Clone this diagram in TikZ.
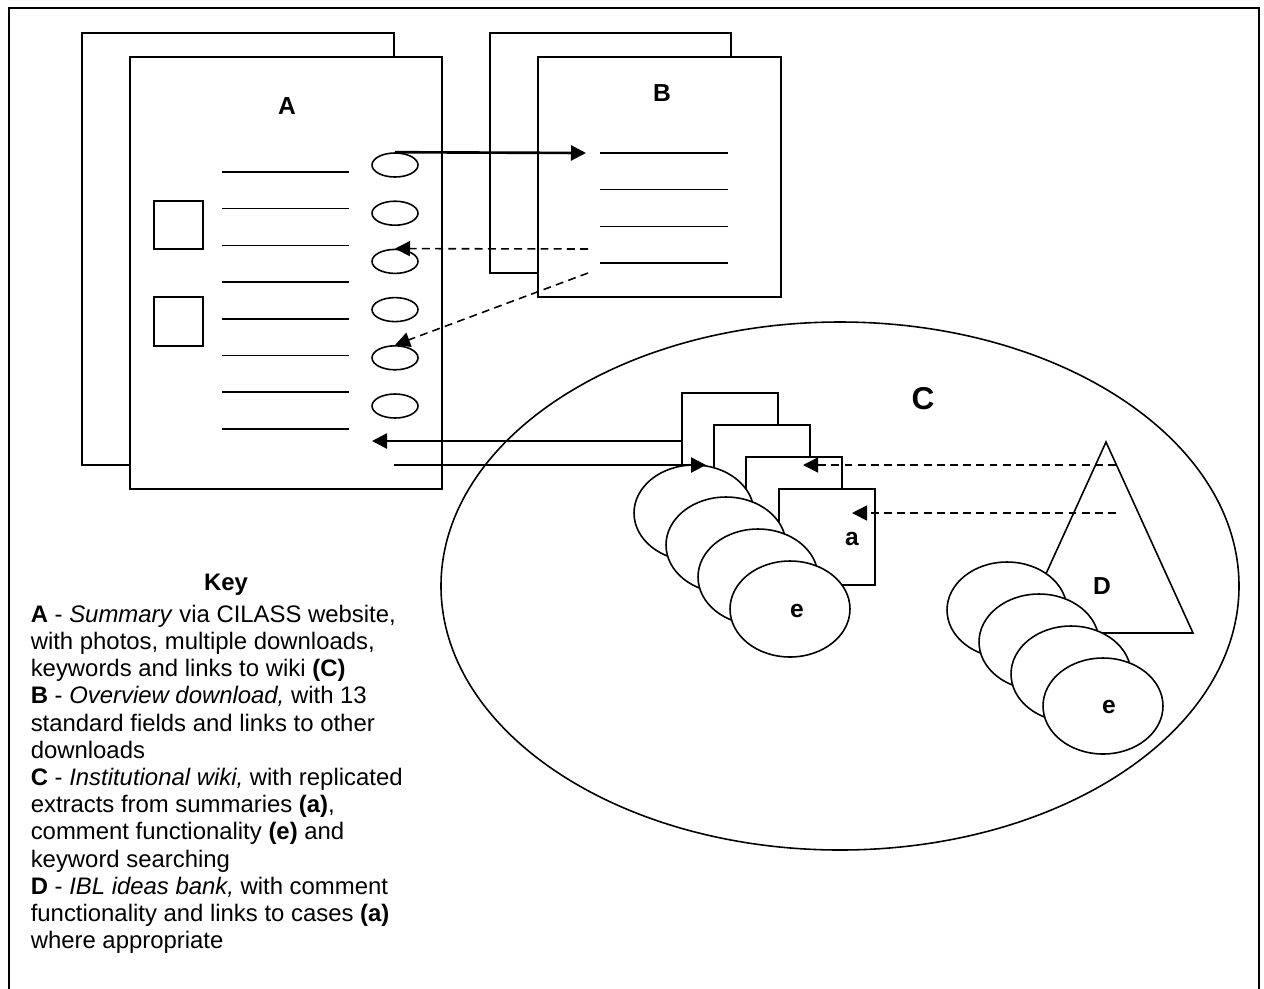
\documentclass[tikz,border=0pt]{standalone}
\usepackage{fontspec}
\setmainfont{Liberation Sans}
\usetikzlibrary{arrows.meta,shapes.geometric}

\begin{document}
\begin{tikzpicture}[x=0.02cm, y=-0.02cm, line width=0.9pt,
  >={Triangle[length=0.3cm, width=0.3cm]},
  sheet/.style={draw, fill=white},
  oval/.style={draw, ellipse, inner sep=0pt, minimum width=0.92cm, minimum height=0.48cm},
  leaf/.style={draw, fill=white, inner sep=0pt, minimum width=1.92cm, minimum height=1.92cm},
  bubble/.style={draw, fill=white, ellipse, inner sep=0pt, minimum width=2.4cm, minimum height=1.92cm},
  link/.style={->, line width=1.5pt},
  xref/.style={->, dash pattern=on 4.5pt off 3pt},
  lbl/.style={font=\fontsize{14}{16}\selectfont\bfseries},
  keyfont/.style={font=\fontsize{13.6}{15.5}\selectfont}]
  \useasboundingbox (0,0) rectangle (1264,988);

  % Frame (bottom edge runs off the page)
  \draw[line width=1.1pt] (9,1000) -- (9,8) -- (1259,8) -- (1259,1000);

  % Summary pages A
  \draw[sheet] (82,33) rectangle (394,465);
  \draw[sheet] (130,57) rectangle (442,489);
  \node[lbl] (labA) at (287,106) {A};
  \draw (154,201) rectangle (203,249);
  \draw (154,297) rectangle (203,346);
  \foreach \y in {172,208.7,245.4,282.1,318.8,355.5,392.2,428.9}
    \draw (222,\y) -- (349,\y);
  \foreach \i/\y in {1/165,2/213.2,3/261.4,4/309.6,5/357.8,6/406}
    \node[oval] (o\i) at (395,\y) {};

  % Overview pages B
  \draw[sheet] (490,33) rectangle (731,273);
  \draw[sheet] (538,57) rectangle (781,297);
  \node[lbl] (labB) at (662,93) {B};
  \foreach \y in {153,189.7,226.4,263.1}
    \draw (600,\y) -- (728,\y);

  % Wiki C
  \draw (840,586) ellipse [x radius=399, y radius=264];
  \node[font=\fontsize{18}{20}\selectfont\bfseries] (labC) at (923,399) {C};
  \foreach \i/\x/\y in {1/730/441,2/762/473,3/794/505,4/827/537}
    \node[leaf] (p\i) at (\x,\y) {};
  \node[lbl] (laba) at (852,539) {a};
  \foreach \i/\x/\y in {1/694/513,2/726/545,3/758/577,4/790/609}
    \node[bubble] (e\i) at (\x,\y) {};
  \node[lbl] (labe1) at (797,611) {e};

  % Ideas bank D
  \coordinate (Dtop) at (1106,442);
  \coordinate (Dright) at (1193,633);
  \coordinate (Dleft) at (1019,633);
  \draw (Dtop) -- (Dright) -- (Dleft) -- cycle;
  \node[lbl] (labD) at (1102,586) {D};
  \foreach \i/\x/\y in {1/1007/610,2/1039/642,3/1071/674,4/1103/706}
    \node[bubble] (d\i) at (\x,\y) {};
  \node[lbl] (labe2) at (1109,707) {e};

  % Links
  \coordinate (Bin) at (586,153);
  \coordinate (Bout1) at (588,249);
  \coordinate (Bout2) at (588,273);
  \coordinate (Ain) at (372,441);
  \coordinate (Aout) at (394,465);
  \coordinate (Cin) at (706,465);
  \coordinate (Dout1) at (1116,465);
  \coordinate (Dout2) at (1116,513);
  \coordinate (Cin1) at (803,465);
  \coordinate (Cin2) at (852,513);
  \draw[link] (o1.north) -- (Bin);
  \draw[xref] (Bout1) -- (o3.north);
  \draw[xref] (Bout2) -- (o5.north);
  \draw[link] (p1.west) -- (Ain);
  \draw[link] (Aout) -- (Cin);
  \draw[xref] (Dout1) -- (Cin1);
  \draw[xref] (Dout2) -- (Cin2);

  % Key
  \node[font=\fontsize{13.6}{15.5}\selectfont\bfseries] (keyhead) at (226,585) {Key};
  \node[keyfont, anchor=north west, inner sep=0pt, align=left] (keytext) at (30,604)
    {\textbf{A} - \textit{Summary} via CILASS website,\\
     with photos, multiple downloads,\\
     keywords and links to wiki \textbf{(C)}\\
     \textbf{B} - \textit{Overview download,} with 13\\
     standard fields and links to other\\
     downloads\\
     \textbf{C} - \textit{Institutional wiki,} with replicated\\
     extracts from summaries \textbf{(a)},\\
     comment functionality \textbf{(e)} and\\
     keyword searching\\
     \textbf{D} - \textit{IBL ideas bank,} with comment\\
     functionality and links to cases \textbf{(a)}\\
     where appropriate};
\end{tikzpicture}
\end{document}
